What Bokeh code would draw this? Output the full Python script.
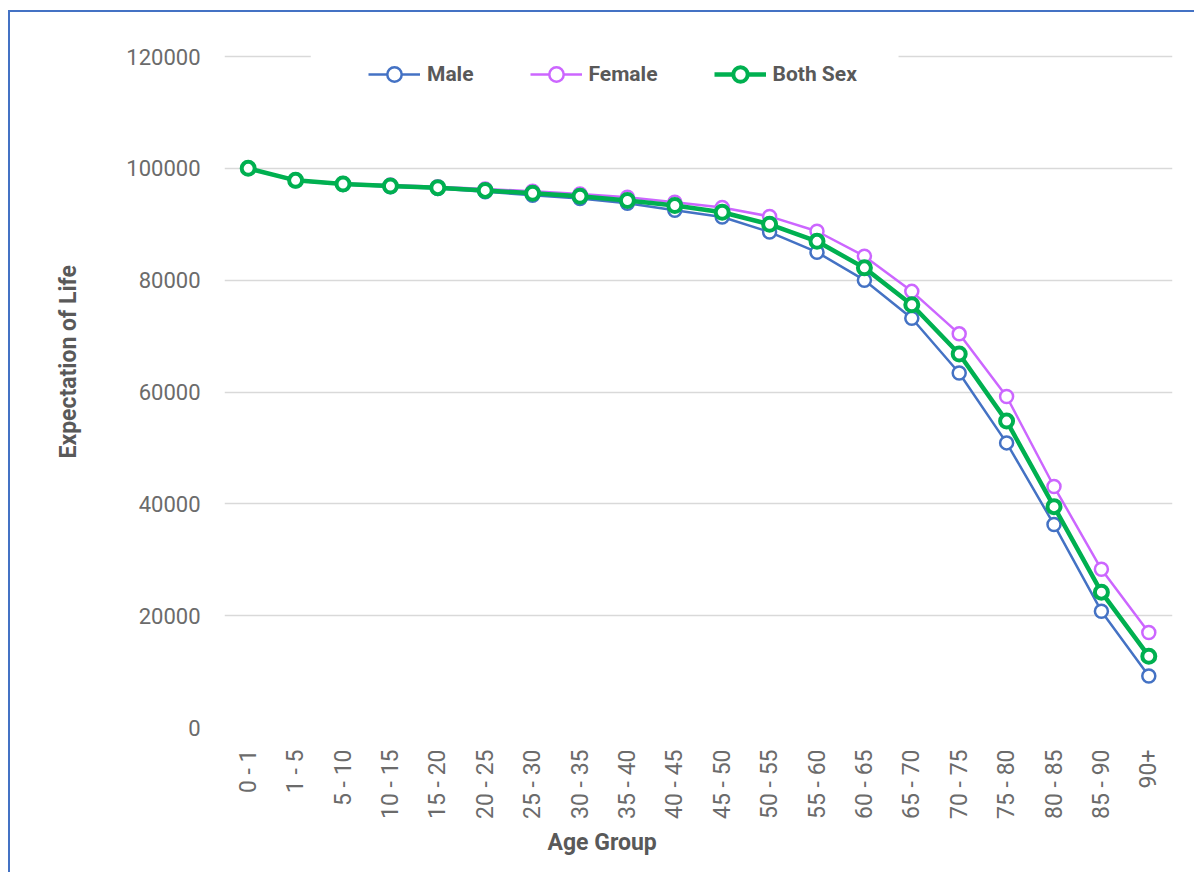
import math
from bokeh.plotting import figure
from bokeh.models import (FactorRange, Range1d, FixedTicker, BasicTickFormatter,
                          Legend, LegendItem, BoxAnnotation, Title)
from bokeh.embed import file_html
from bokeh.resources import INLINE

age_groups = ["0 - 1", "1 - 5", "5 - 10", "10 - 15", "15 - 20", "20 - 25", "25 - 30",
              "30 - 35", "35 - 40", "40 - 45", "45 - 50", "50 - 55", "55 - 60", "60 - 65",
              "65 - 70", "70 - 75", "75 - 80", "80 - 85", "85 - 90", "90+"]
male = [100000, 97800, 97100, 96700, 96400, 95800, 95200, 94600, 93750, 92500,
        91300, 88600, 85000, 80000, 73200, 63400, 50900, 36300, 20800, 9200]
female = [100000, 97900, 97300, 97000, 96700, 96300, 95900, 95400, 94850, 93950,
          93000, 91400, 88750, 84300, 78000, 70400, 59200, 43100, 28300, 17000]
both_sex = [100000, 97850, 97200, 96850, 96550, 96050, 95550, 95000, 94250, 93350,
            92150, 90000, 86950, 82200, 75600, 66800, 54800, 39500, 24200, 12750]
y_ticks = [0, 20000, 40000, 60000, 80000, 100000, 120000]
x_title = "Age Group"
y_title = "Expectation of Life"

MALE_C = "#4472C4"
FEMALE_C = "#CC66FF"
BOTH_C = "#00B050"
AXIS_TXT = "#595959"
TICK_TXT = "#6B6B6B"
FONT = "Roboto"

p = figure(x_range=FactorRange(factors=age_groups), y_range=Range1d(0, 120360),
           width=1186, height=862, output_backend="svg", toolbar_location=None,
           min_border_left=197, min_border_right=24, min_border_top=42,
           min_border_bottom=147,
           styles={"border-left": "2px solid #4472C4", "border-top": "2px solid #4472C4",
                   "margin-left": "8px", "margin-top": "10px"})
p.outline_line_color = None
p.background_fill_color = "white"
p.border_fill_color = "white"

p.xgrid.grid_line_color = None
p.ygrid.grid_line_color = "#D9D9D9"
p.ygrid.grid_line_width = 1.5

p.yaxis.ticker = FixedTicker(ticks=y_ticks)
p.yaxis.formatter = BasicTickFormatter(use_scientific=False)
for ax in (p.xaxis[0], p.yaxis[0]):
    ax.axis_line_color = None
    ax.major_tick_line_color = None
    ax.minor_tick_line_color = None
    ax.major_label_text_font = FONT
    ax.major_label_text_color = TICK_TXT

p.yaxis.major_label_text_font_size = "22px"
p.yaxis.major_label_standoff = 18
p.xaxis.major_label_text_font_size = "23px"
p.xaxis.major_label_orientation = math.pi / 2
p.xaxis.major_label_standoff = 16

# axis titles (offset as in the original, not centred on the frame)
p.add_layout(Title(text=y_title, align="left", offset=269, standoff=84,
                   text_font=FONT, text_font_style="bold", text_font_size="23px",
                   text_color=AXIS_TXT), "left")
p.add_layout(Title(text=x_title, align="left", offset=323, standoff=10,
                   text_font=FONT, text_font_style="bold", text_font_size="23px",
                   text_color=AXIS_TXT), "below")

ml = p.line(age_groups, male, line_color=MALE_C, line_width=2.5)
ms = p.scatter(age_groups, male, marker="circle", size=13, fill_color="white",
               line_color=MALE_C, line_width=2.5)
fl = p.line(age_groups, female, line_color=FEMALE_C, line_width=2.5)
fs = p.scatter(age_groups, female, marker="circle", size=13, fill_color="white",
               line_color=FEMALE_C, line_width=2.5)
bl = p.line(age_groups, both_sex, line_color=BOTH_C, line_width=4.5)
bs = p.scatter(age_groups, both_sex, marker="circle", size=13, fill_color="white",
               line_color=BOTH_C, line_width=4)

# white legend backdrop interrupting the top gridline
p.add_layout(BoxAnnotation(left=1.82, right=14.22, bottom=117000, top=123000,
                           fill_color="white", fill_alpha=1.0, line_color=None))

legend = Legend(items=[LegendItem(label="Male", renderers=[ml, ms]),
                       LegendItem(label="Female", renderers=[fl, fs]),
                       LegendItem(label="Both Sex", renderers=[bl, bs])],
                orientation="horizontal", location=(144, 635),
                glyph_width=52, glyph_height=36, label_standoff=7, spacing=56,
                padding=0, margin=0, border_line_color=None,
                background_fill_alpha=0.0,
                label_text_font=FONT, label_text_font_style="bold",
                label_text_font_size="21px", label_text_color=AXIS_TXT)
p.add_layout(legend, "center")

open("out.html", "w").write(file_html(p, INLINE))
